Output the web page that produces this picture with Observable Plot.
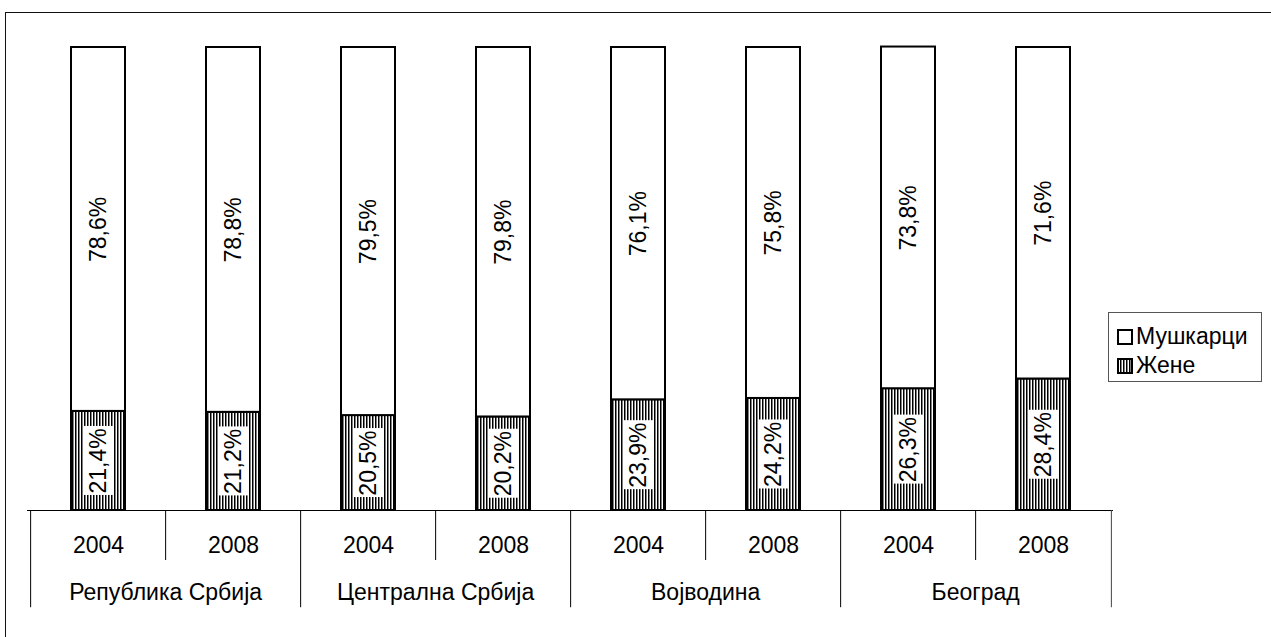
<!DOCTYPE html>
<html>
<head>
<meta charset="utf-8">
<script src="https://cdn.jsdelivr.net/npm/d3@7"></script>
<script src="https://cdn.jsdelivr.net/npm/@observablehq/plot@0.6"></script>
<style>
  html, body { margin: 0; padding: 0; background: #fff; overflow: hidden; }
  #wrap { position: relative; width: 1271px; height: 637px; font-family: "Liberation Sans", Arial, sans-serif; }
  #frame { position: absolute; left: 5px; top: 12px; width: 1400px; height: 800px; border: 1.5px solid #111; box-sizing: border-box; pointer-events: none; }
  #chart { position: absolute; left: 0; top: 0; }
  #legend { position: absolute; left: 1108px; top: 312px; width: 154px; height: 70px; border: 1px solid #555; box-sizing: border-box; background: #fff; font-size: 23px; color: #000; }
  .item { position: absolute; left: 8px; display: flex; align-items: center; }
  .item svg { margin-right: 3px; }
</style>
</head>
<body>
<div id="wrap">
  <div id="chart"></div>
  <div id="frame"></div>
  <div id="legend"></div>
</div>
<script>
const groups = ["Република Србија", "Централна Србија", "Војводина", "Београд"];
const years = ["2004", "2008"];
const sexes = ["Жене", "Мушкарци"];
const men   = [78.6, 78.8, 79.5, 79.8, 76.1, 75.8, 73.8, 71.6];
const women = [21.4, 21.2, 20.5, 20.2, 23.9, 24.2, 26.3, 28.4];

const keys = [];
groups.forEach(g => years.forEach(y => keys.push(g + "|" + y)));
const rows = [];
keys.forEach((k, i) => {
  const [g, y] = k.split("|");
  rows.push({key: k, group: g, year: y, sex: "Жене", value: women[i]});
  rows.push({key: k, group: g, year: y, sex: "Мушкарци", value: men[i]});
});
const womenRows = rows.filter(d => d.sex === "Жене");
const fmt = v => v.toFixed(1).replace(".", ",") + "%";

const W = 1271, H = 637;
const mL = 27, mR = 158, mT = 47, mB = 127;
const step = (W - mL - mR) / keys.length;
const font = "'Liberation Sans', Arial, sans-serif";

const plot = Plot.plot({
  width: W, height: H,
  marginLeft: mL, marginRight: mR, marginTop: mT, marginBottom: mB,
  style: {fontFamily: font, background: "transparent"},
  x: {domain: keys, paddingInner: 0.6, paddingOuter: 0.3, axis: null},
  y: {domain: [0, 100], axis: null},
  color: {domain: ["Мушкарци", "Жене"], range: ["white", "url(#hatch)"]},
  marks: [
    Plot.barY(rows, Plot.stackY({x: "key", y: "value", z: "sex", order: sexes, fill: "sex", stroke: "black", strokeWidth: 2})),
    Plot.barY(womenRows, {x: "key", y1: d => d.value / 2 - 7.45, y2: d => d.value / 2 + 7.45, fill: "white", insetLeft: 12, insetRight: 12}),
    Plot.text(rows, Plot.stackY({x: "key", y: "value", z: "sex", order: sexes, text: d => fmt(d.value), rotate: -90, fontSize: 23, fill: "black"})),
    Plot.ruleY([0], {stroke: "black", strokeWidth: 1}),
    // short separators between years
    Plot.ruleX(keys.filter(k => k.endsWith("2008")), {x: d => d, dx: -step / 2, y1: 0, y2: -10.8, stroke: "black", strokeWidth: 1}),
    // long separators at group boundaries
    Plot.ruleX(keys.filter(k => k.endsWith("2004")), {x: d => d, dx: -step / 2, y1: 0, y2: -21, stroke: "black", strokeWidth: 1}),
    Plot.ruleX([keys[keys.length - 1]], {x: d => d, dx: step / 2, y1: 0, y2: -21, stroke: "#444", strokeWidth: 1}),
    Plot.text(womenRows, {x: "key", text: "year", frameAnchor: "bottom", dy: 42, fontSize: 23, fill: "black"}),
    Plot.text(keys.filter(k => k.endsWith("2008")), {x: d => d, text: d => d.split("|")[0], frameAnchor: "bottom", dx: -step / 2, dy: 89, fontSize: 23, fill: "black"})
  ]
});

const ns = "http://www.w3.org/2000/svg";
const defs = document.createElementNS(ns, "defs");
defs.innerHTML = '<pattern id="hatch" patternUnits="userSpaceOnUse" width="3" height="3"><rect width="3" height="3" fill="white"/><rect width="1.5" height="3" fill="black"/></pattern>';
plot.insertBefore(defs, plot.firstChild);
document.getElementById("chart").appendChild(plot);

const legend = document.getElementById("legend");
const items = [
  {label: "Мушкарци", fill: "white", top: 10},
  {label: "Жене", fill: "url(#hatchL)", top: 39}
];
items.forEach(it => {
  const d = document.createElement("div");
  d.className = "item";
  d.style.top = it.top + "px";
  d.innerHTML = '<svg width="16" height="16"><defs><pattern id="hatchL" patternUnits="userSpaceOnUse" width="3" height="3"><rect width="3" height="3" fill="white"/><rect width="1.5" height="3" fill="black"/></pattern></defs><rect x="1" y="1" width="14" height="14" fill="' + it.fill + '" stroke="black" stroke-width="2"/></svg><span>' + it.label + '</span>';
  legend.appendChild(d);
});
</script>
</body>
</html>
